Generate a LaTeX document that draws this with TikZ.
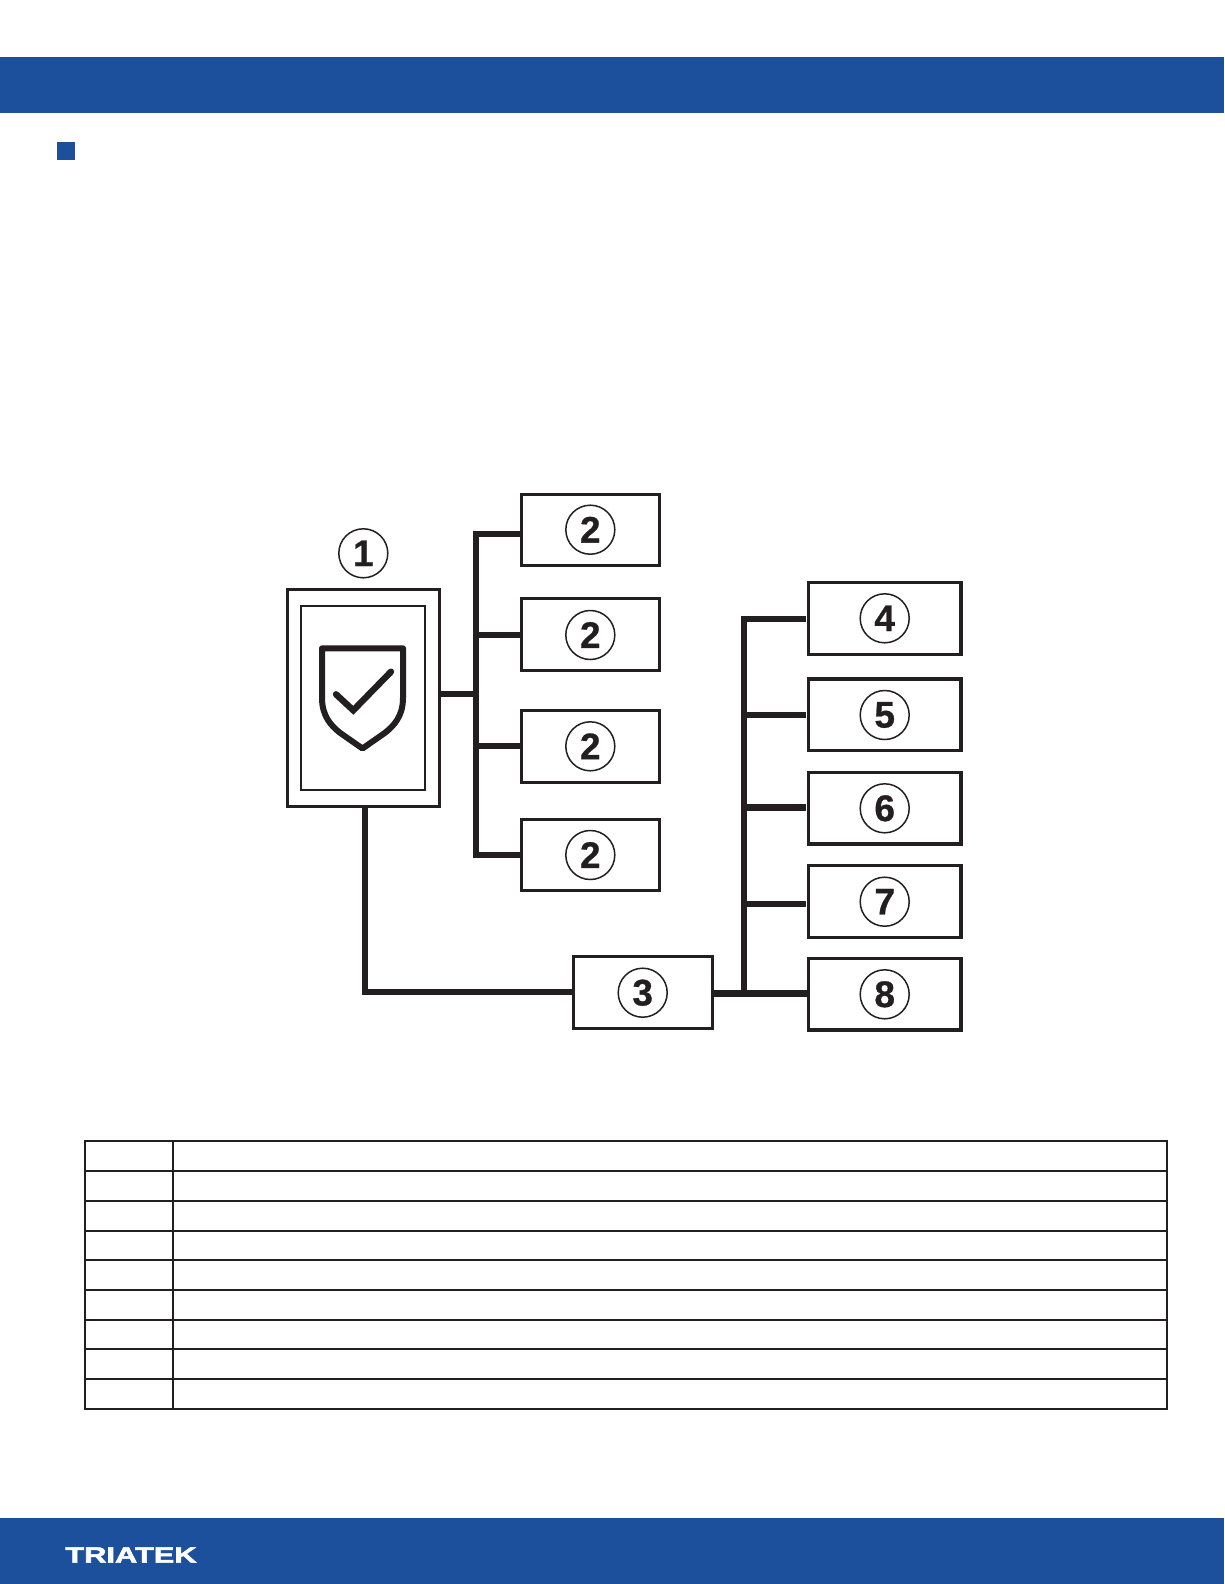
\documentclass[tikz,border=0pt]{standalone}
\usepackage{fontspec}
\setmainfont{Liberation Sans}
\newfontfamily\numfont{Liberation Sans}[BoldFeatures={FakeBold=0.7}]
\newfontfamily\logofont{Liberation Sans}[BoldFeatures={FakeBold=2.2}]
\definecolor{brand}{HTML}{1C4F9C}
\definecolor{ink}{HTML}{231F20}
\tikzset{
  band/.style={fill=brand,draw=none},
  boxa/.style={draw=ink,line width=3.2pt,fill=white,inner sep=0pt,minimum width=138pt,minimum height=71.5pt},
  boxb/.style={draw=ink,line width=3.2pt,fill=white,inner sep=0pt,minimum width=152.5pt,minimum height=71.5pt},
  num/.style={circle,draw=ink,line width=1.5pt,inner sep=0pt,minimum size=49pt,text=ink,font=\fontsize{37}{37}\numfont\bfseries},
  wire/.style={draw=ink,line width=6.2pt,line join=miter},
  tline/.style={draw=ink,line width=2.4pt},
}
\begin{document}
\begin{tikzpicture}[x=1pt,y=-1pt]
\useasboundingbox[fill=white] (0,0) rectangle (1224,1584);
% bands and bullet
\fill[band] (0,57) rectangle (1224,112.7);
\fill[band] (0,1518) rectangle (1224,1584);
\fill[band] (57,142) rectangle (75,160);
\node[text=white,font=\fontsize{22}{22}\logofont\bfseries,inner sep=0pt,xscale=1.4,transform shape] (logo) at (131,1555) {TRIATEK};
% junction coordinates
\coordinate (ja) at (475.7,694);
\coordinate (ja1) at (475.7,534);
\coordinate (ja2) at (475.7,634.7);
\coordinate (ja3) at (475.7,745.7);
\coordinate (ja4) at (475.7,854.8);
\coordinate (mdown) at (365,807);
\coordinate (mcorner) at (365,991.8);
\coordinate (jb4) at (744,619);
\coordinate (jb5) at (744,714.7);
\coordinate (jb6) at (744,807.5);
\coordinate (jb7) at (744,904);
\coordinate (jb8) at (744,993.3);
\coordinate (e4) at (806,619);
\coordinate (e5) at (806,714.7);
\coordinate (e6) at (806,807.5);
\coordinate (e7) at (806,904);
% boxes
\node[draw=ink,line width=3pt,fill=white,inner sep=0pt,minimum width=151.8pt,minimum height=216.6pt] (main) at (363.4,698) {};
\node[draw=ink,line width=2.2pt,inner sep=0pt,minimum width=124pt,minimum height=184pt] (screen) at (363,698) {};
\node[boxa] (b2a) at (590.5,530) {};
\node[boxa] (b2b) at (590.5,634.5) {};
\node[boxa] (b2c) at (590.5,746.5) {};
\node[boxa] (b2d) at (590.5,855) {};
\node[boxa,minimum height=71.5pt,minimum width=139pt] (b3) at (643,992.4) {};
\node[boxb] (b4) at (884.8,618.4) {};
\node[boxb] (b5) at (884.8,714.8) {};
\node[boxb] (b6) at (884.8,808.2) {};
\node[boxb] (b7) at (884.8,901.4) {};
\node[boxb] (b8) at (884.8,994.2) {};
% connectors
\draw[wire,line width=5.4pt] (main.east |- ja) -- (ja);
\draw[wire] (b2a.west |- ja1) -- (ja1) -- (ja4) -- (b2d.west |- ja4);
\draw[wire,line width=5.6pt] (ja2) -- (b2b.west |- ja2);
\draw[wire,line width=5.6pt] (ja3) -- (b2c.west |- ja3);
\draw[wire] (mdown) -- (mcorner) -- (b3.west |- mcorner);
\draw[wire] (e4) -- (jb4) -- (jb8);
\draw[wire] (jb5) -- (e5);
\draw[wire,line width=6.8pt] (jb6) -- (e6);
\draw[wire] (jb7) -- (e7);
\draw[wire,line width=6.8pt] (b3.east |- jb8) -- (b8.west |- jb8);
% number circles
\node[num] (n1) at (363.3,553.3) {1};
\node[num] (n2a) at (590.3,529.7) {2};
\node[num] (n2b) at (590.3,635) {2};
\node[num] (n2c) at (590.3,746.3) {2};
\node[num] (n2d) at (590.3,855) {2};
\node[num] (n3) at (642.7,992.7) {3};
\node[num] (n4) at (884.7,618.3) {4};
\node[num] (n5) at (884.7,715) {5};
\node[num] (n6) at (884.7,808.3) {6};
\node[num] (n7) at (884.7,901.7) {7};
\node[num] (n8) at (884.7,994.3) {8};
% shield
\draw[ink,line width=6pt,line join=round]
  (322,648.3) -- (403,648.3) -- (403,698)
  .. controls (403,716) and (394,726) .. (384,733.5)
  -- (362.5,748.5) -- (341,733.5)
  .. controls (331,726) and (322,716) .. (322,698) -- cycle;
\draw[ink,line width=6.4pt,line cap=round,line join=miter] (336,694.3) -- (353.3,710.3) -- (391,671.7);
% table
\draw[tline] (85,1140.7) rectangle (1167,1408.7);
\draw[tline] (173,1140.7) -- (173,1408.7);
\foreach \yy in {1171,1200.7,1230.7,1260,1290,1320,1349,1378.7}
  \draw[tline] (85,\yy) -- (1167,\yy);
\end{tikzpicture}
\end{document}
